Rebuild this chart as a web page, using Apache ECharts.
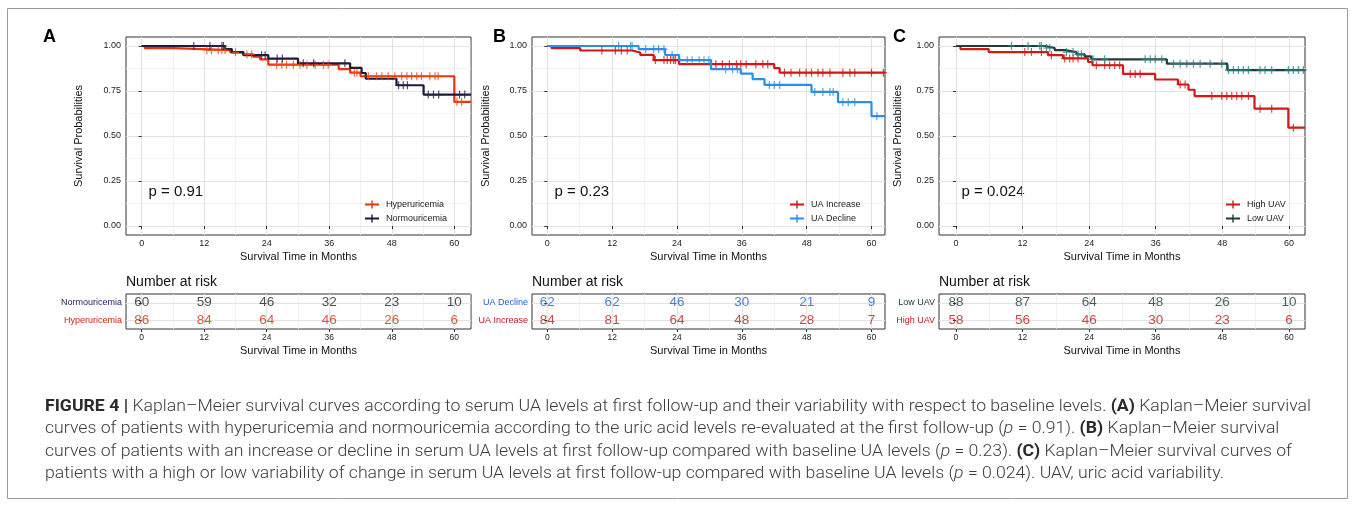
<!DOCTYPE html>
<html>
<head>
<meta charset="utf-8">
<script src="https://cdn.jsdelivr.net/npm/echarts@6/dist/echarts.min.js"></script>
<style>
  html, body { margin: 0; padding: 0; background: #fff; }
  #chart { position: absolute; left: 0; top: 0; width: 1355px; height: 507px; }
  #caption { position: absolute; left: 45px; top: 395px; font-family: Roboto, 'Liberation Sans', sans-serif;
             font-weight: 300; font-size: 16px; color: #3c3c3c; }
  #caption div { height: 22.3px; line-height: 22.3px; white-space: nowrap; }
  #caption span.ln { display: inline-block; transform-origin: 0 50%; }
  #caption b { font-weight: 700; color: #2a2a2a; }
</style>
</head>
<body>
<div id="chart"></div>
<div id="caption">
  <div><span class="ln"><b>FIGURE 4 |</b> Kaplan–Meier survival curves according to serum UA levels at first follow-up and their variability with respect to baseline levels. <b>(A)</b> Kaplan–Meier survival</span></div>
  <div><span class="ln">curves of patients with hyperuricemia and normouricemia according to the uric acid levels re-evaluated at the first follow-up (<i>p</i> = 0.91). <b>(B)</b> Kaplan–Meier survival</span></div>
  <div><span class="ln">curves of patients with an increase or decline in serum UA levels at first follow-up compared with baseline UA levels (<i>p</i> = 0.23). <b>(C)</b> Kaplan–Meier survival curves of</span></div>
  <div><span class="ln">patients with a high or low variability of change in serum UA levels at first follow-up compared with baseline UA levels (<i>p</i> = 0.024). UAV, uric acid variability.</span></div>
</div>
<script>
// ---- data (months / survival probability / censor times / number at risk) ----
const riskMonths = [0, 12, 24, 36, 48, 60];
const yTicks = [0, 0.25, 0.5, 0.75, 1];

// A: hyperuricemia vs normouricemia
const normoTime = [0, 16.0, 17.3, 19.5, 24.3, 30.0, 40.0, 42.2, 43.0, 48.9, 54.1];
const normoSurv = [1, 0.983, 0.966, 0.949, 0.930, 0.904, 0.879, 0.850, 0.818, 0.782, 0.730];
const normoCensor = [10.0, 13.1, 15.4, 15.7, 23.0, 23.7, 26.0, 27.0, 31.0, 33.0, 39.0, 49.3, 50.2, 51.0, 55.0, 56.0, 57.0, 61.0, 62.0];
const hyperTime = [0, 0.6, 6.1, 17.0, 19.5, 21.4, 22.7, 24.3, 37.8, 40.0, 42.0, 60.0];
const hyperSurv = [1, 0.988, 0.977, 0.965, 0.953, 0.941, 0.926, 0.896, 0.872, 0.852, 0.832, 0.690];
const hyperCensor = [12.5, 13.4, 14.7, 15.4, 16.0, 18.0, 20.2, 21.1, 25.9, 26.9, 27.8, 29.1, 30.4, 31.7, 33.3, 34.9, 35.8,
  40.8, 41.3, 43.5, 45.1, 46.1, 47.3, 48.6, 49.9, 50.9, 51.8, 52.8, 53.7, 55.3, 56.3, 56.9, 60.5, 61.4];
const normoRisk = [60, 59, 46, 32, 23, 10];
const hyperRisk = [86, 84, 64, 46, 26, 6];

// B: UA increase vs UA decline
const incTime = [0, 0.8, 6.1, 15.7, 17.2, 19.7, 24.4, 42.0, 43.0];
const incSurv = [1, 0.988, 0.975, 0.964, 0.951, 0.922, 0.899, 0.877, 0.852];
const incCensor = [10.1, 12.6, 13.7, 14.8, 20.0, 21.6, 22.2, 22.8, 23.4, 23.7, 31.2, 32.4, 33.7, 35.0, 35.8, 36.8, 38.6,
  39.9, 40.8, 43.9, 45.1, 46.7, 47.9, 48.9, 50.1, 51.0, 52.3, 54.7, 56.0, 56.9, 60.0, 62.2];
const decTime = [0, 16.9, 21.8, 24.4, 30.3, 35.8, 38.0, 40.2, 48.9, 53.8, 60.0];
const decSurv = [1, 0.983, 0.950, 0.921, 0.871, 0.847, 0.816, 0.784, 0.745, 0.688, 0.610];
const decCensor = [13.2, 15.4, 15.7, 18.2, 19.7, 20.6, 21.6, 23.1, 25.9, 26.8, 28.1, 29.0, 29.9, 33.0, 34.3, 35.2,
  41.1, 42.0, 43.0, 49.5, 51.0, 52.3, 52.9, 54.7, 55.7, 56.9, 61.0];
const decRisk = [62, 62, 46, 30, 21, 9];
const incRisk = [84, 81, 64, 48, 28, 7];

// C: high vs low UAV
const highTime = [0, 0.8, 5.9, 16.6, 19.3, 23.8, 24.6, 30.1, 35.9, 40.0, 41.9, 43.0, 53.8, 59.9];
const highSurv = [1, 0.983, 0.966, 0.949, 0.931, 0.911, 0.893, 0.845, 0.814, 0.786, 0.757, 0.722, 0.652, 0.546];
const highCensor = [12.4, 13.6, 15.4, 17.2, 19.6, 20.5, 21.1, 22.0, 25.3, 26.8, 27.7, 28.6, 29.5, 31.4, 32.3, 33.2,
  40.4, 41.3, 46.1, 47.9, 48.8, 49.7, 50.6, 51.5, 52.7, 54.8, 56.9, 60.8];
const lowTime = [0, 16.0, 17.8, 19.6, 21.7, 23.2, 24.4, 38.0, 48.9];
const lowSurv = [1, 0.989, 0.977, 0.966, 0.954, 0.942, 0.926, 0.902, 0.866];
const lowCensor = [10.0, 13.0, 15.1, 15.4, 16.3, 16.9, 19.9, 21.1, 22.0, 22.6, 24.7, 26.8, 34.1, 35.0, 35.9, 37.1,
  39.2, 40.4, 41.6, 42.8, 44.0, 45.8, 47.9, 49.1, 50.0, 50.9, 51.8, 52.7, 54.8, 55.7, 56.9, 59.9, 60.8, 61.7, 62.6];
const lowRisk = [88, 87, 64, 48, 26, 10];
const highRisk = [58, 56, 46, 30, 23, 6];

// ---- layout ----
const FONT = "'Liberation Sans', Arial, Helvetica, sans-serif";
const CROSS = 'path://M-0.6,-4H0.6V-0.6H3.5V0.6H0.6V4H-0.6V0.6H-3.5V-0.6H-0.6Z';
const LEG_ICON = 'path://M0,3H6.3V0H7.7V3H14V5H7.7V8H6.3V5H0Z';
const MAJOR = '#e2e2e2', MINOR = '#efefef', INK = '#333';

const panels = [
  { letter: 'A', letterX: 43, p: 'p = 0.91', left: 126, width: 345, xMin: -3.01, xMax: 63.2, yGap: 42, legLeft: 365,
    groups: [
      { name: 'Hyperuricemia', time: hyperTime, surv: hyperSurv, censor: hyperCensor, risk: hyperRisk, row: 1,
        line: '#E8340E', mark: '#EC4A14', label: '#C8260E', text: '#C8300F' },
      { name: 'Normouricemia', time: normoTime, surv: normoSurv, censor: normoCensor, risk: normoRisk, row: 2,
        line: '#1B1B3C', mark: '#22224A', label: '#262660', text: '#1a1a1a' }
    ] },
  { letter: 'B', letterX: 493, p: 'p = 0.23', left: 532, width: 353, xMin: -2.83, xMax: 62.5, yGap: 41, legLeft: 790,
    groups: [
      { name: 'UA Increase', time: incTime, surv: incSurv, censor: incCensor, risk: incRisk, row: 1,
        line: '#D41616', mark: '#D41616', label: '#B41E1E', text: '#B41E1E' },
      { name: 'UA Decline', time: decTime, surv: decSurv, censor: decCensor, risk: decRisk, row: 2,
        line: '#2C8FE6', mark: '#2C8FE6', label: '#1E5FC8', text: '#1E5FC8' }
    ] },
  { letter: 'C', letterX: 893, p: 'p = 0.024', left: 939, width: 366, xMin: -3.06, xMax: 62.9, yGap: 36, legLeft: 1226,
    groups: [
      { name: 'High UAV', time: highTime, surv: highSurv, censor: highCensor, risk: highRisk, row: 1,
        line: '#D41818', mark: '#D41818', label: '#C01818', text: '#C01818' },
      { name: 'Low UAV', time: lowTime, surv: lowSurv, censor: lowCensor, risk: lowRisk, row: 2,
        line: '#1F3B3B', mark: '#2B8585', label: '#1C3434', text: '#1C3434' }
    ] }
];

function survAt(time, surv, t) {
  let s = surv[0];
  for (let i = 0; i < time.length; i++) if (time[i] <= t) s = surv[i];
  return s;
}

const grid = [], xAxis = [], yAxis = [], series = [], legend = [], graphic = [];

function xMain(gi, P, labelSize, nameGap, labelMargin) {
  return { type: 'value', gridIndex: gi, min: P.xMin, max: P.xMax,
    axisLine: { show: false },
    axisTick: { show: true, length: 3, customValues: riskMonths, lineStyle: { color: INK } },
    axisLabel: { customValues: riskMonths, margin: labelMargin, fontSize: labelSize, color: '#222', fontFamily: FONT },
    splitLine: { show: true, lineStyle: { color: MAJOR, width: 1 } },
    name: 'Survival Time in Months', nameLocation: 'middle', nameGap: nameGap,
    nameTextStyle: { fontSize: 11, color: '#111', fontFamily: FONT } };
}
function minorAxis(type, gi, min, max, values) {
  return { type: 'value', gridIndex: gi, min: min, max: max, position: type === 'x' ? 'top' : 'right',
    axisLine: { show: false }, axisLabel: { show: false },
    axisTick: { show: false, customValues: values },
    splitLine: { show: true, lineStyle: { color: MINOR, width: 0.8 } } };
}

panels.forEach(P => {
  const gPlot = grid.length;
  grid.push({ left: P.left, top: 37, width: P.width, height: 198, show: true, borderColor: INK, borderWidth: 1 });
  const gRisk = grid.length;
  grid.push({ left: P.left, top: 294, width: P.width, height: 35, show: true, borderColor: INK, borderWidth: 1 });

  const xi = xAxis.length;
  xAxis.push(xMain(gPlot, P, 9, 16, 4));
  xAxis.push(minorAxis('x', gPlot, P.xMin, P.xMax, [6, 18, 30, 42, 54]));
  xAxis.push(xMain(gRisk, P, 8.5, 16, 4));
  xAxis.push(minorAxis('x', gRisk, P.xMin, P.xMax, [6, 18, 30, 42, 54]));

  const yi = yAxis.length;
  yAxis.push({ type: 'value', gridIndex: gPlot, min: -0.05, max: 1.05,
    axisLine: { show: false },
    axisTick: { show: true, length: 3, customValues: yTicks, lineStyle: { color: INK } },
    axisLabel: { customValues: yTicks, formatter: v => Number(v).toFixed(2), margin: 5, fontSize: 9, color: '#222', fontFamily: FONT },
    splitLine: { show: true, lineStyle: { color: MAJOR, width: 1 } },
    name: 'Survival Probabilities', nameLocation: 'middle', nameGap: P.yGap,
    nameTextStyle: { fontSize: 11, color: '#111', fontFamily: FONT } });
  yAxis.push(minorAxis('y', gPlot, -0.05, 1.05, [0.125, 0.375, 0.625, 0.875]));
  const rowName = {}, rowColor = {};
  P.groups.forEach(g => { rowName[g.row] = g.name; rowColor[g.row] = g.label; });
  yAxis.push({ type: 'value', gridIndex: gRisk, min: 0.5, max: 2.5,
    axisLine: { show: false },
    axisTick: { show: true, length: 3, customValues: [1, 2], lineStyle: { color: INK } },
    axisLabel: { customValues: [1, 2], formatter: v => rowName[Number(v)], margin: 4, fontSize: 9, fontFamily: FONT,
      color: v => rowColor[Number(v)] || '#222' },
    splitLine: { show: true, lineStyle: { color: MAJOR, width: 1 } } });

  P.groups.forEach(g => {
    const pts = g.time.map((t, i) => [t, g.surv[i]]);
    pts.push([P.xMax, g.surv[g.surv.length - 1]]);
    series.push({ type: 'line', name: g.name, xAxisIndex: xi, yAxisIndex: yi, step: 'end', data: pts,
      showSymbol: false, color: g.line, itemStyle: { color: g.line },
      lineStyle: { color: g.line, width: 2.2 }, z: 3, silent: true });
    series.push({ type: 'scatter', name: g.name, xAxisIndex: xi, yAxisIndex: yi, symbol: CROSS, symbolSize: [7, 8],
      data: g.censor.map(t => [t, survAt(g.time, g.surv, t)]), itemStyle: { color: g.mark }, z: 4, silent: true });
    series.push({ type: 'scatter', name: g.name + ' at risk', xAxisIndex: xi + 2, yAxisIndex: yi + 2, symbolSize: 1,
      itemStyle: { color: 'transparent' }, silent: true,
      data: riskMonths.map((m, i) => [m, g.row, g.risk[i]]),
      label: { show: true, position: 'inside', formatter: p => p.value[2], fontSize: 13.5, color: g.text, fontFamily: FONT } });
  });

  legend.push({ data: P.groups.map(g => g.name), orient: 'vertical', left: P.legLeft, top: 200, padding: 0,
    itemWidth: 14, itemHeight: 8, itemGap: 5, icon: LEG_ICON, selectedMode: false,
    textStyle: { fontSize: 9, color: '#222', fontFamily: FONT, padding: [0, 0, 0, 2] } });

  graphic.push({ type: 'text', left: P.letterX, top: 28, style: { text: P.letter, font: 'bold 18px ' + FONT, fill: '#000' } });
  graphic.push({ type: 'text', x: P.left + 22.5, y: 191.5,
    style: { text: P.p, font: '15px ' + FONT, fill: '#111', verticalAlign: 'middle' } });
  graphic.push({ type: 'text', x: P.left, y: 282, style: { text: 'Number at risk', font: '14px ' + FONT, fill: '#111', verticalAlign: 'middle' } });
});

graphic.push({ type: 'rect', shape: { x: 7.5, y: 8.5, width: 1340, height: 490 }, style: { fill: 'none', stroke: '#9a9a9a', lineWidth: 1 } });
graphic.push({ type: 'line', shape: { x1: 470.5, y1: 40, x2: 470.5, y2: 227 }, style: { stroke: '#b0b0b0', lineWidth: 1 } });
graphic.push({ type: 'line', shape: { x1: 470.5, y1: 293, x2: 470.5, y2: 327 }, style: { stroke: '#b0b0b0', lineWidth: 1 } });

const chart = echarts.init(document.getElementById('chart'));
chart.setOption({ animation: false, backgroundColor: '#fff', grid, xAxis, yAxis, series, legend, graphic });

// one horizontal scale for the whole caption, fitted so the first line ends where the printed one does
const lines = document.querySelectorAll('#caption span.ln');
const firstLineWidth = 1266;
const scale = firstLineWidth / lines[0].getBoundingClientRect().width;
lines.forEach(s => { s.style.transform = 'scaleX(' + scale + ')'; });
</script>
</body>
</html>
